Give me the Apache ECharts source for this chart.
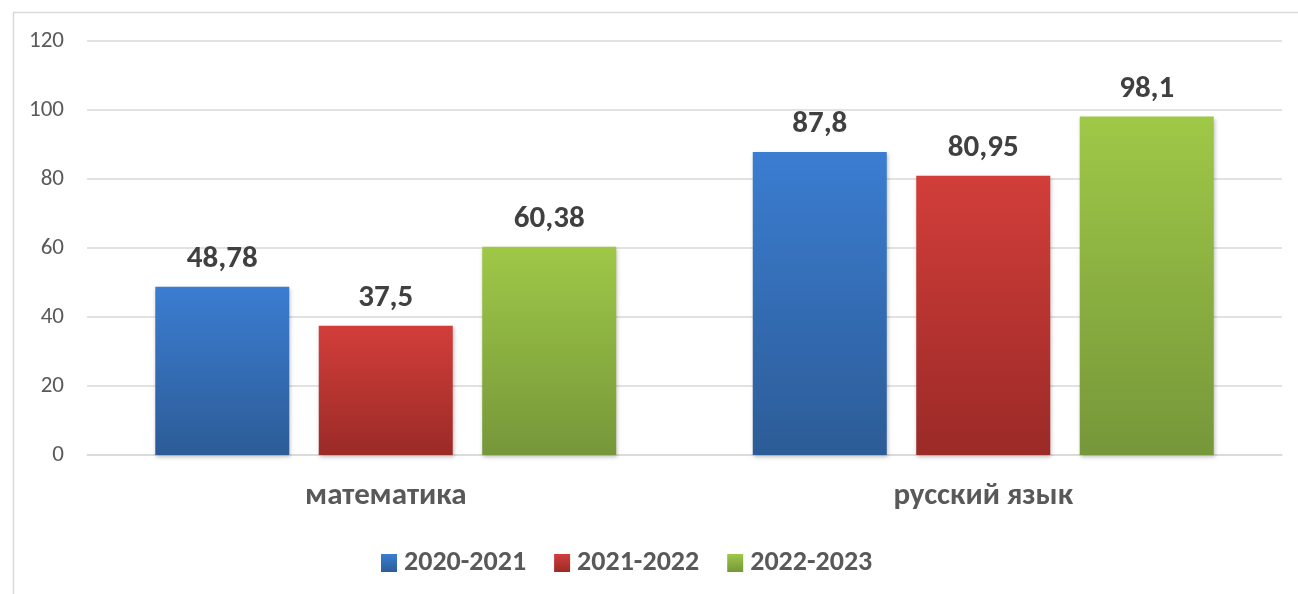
<!DOCTYPE html>
<html>
<head>
<meta charset="utf-8">
<script src="https://cdn.jsdelivr.net/npm/echarts@6/dist/echarts.min.js"></script>
<style>
  html, body { margin: 0; padding: 0; background: #fff; }
  #chart { width: 1298px; height: 594px; }
</style>
</head>
<body>
<div id="chart"></div>
<script>
// данные
const subjects = ['математика', 'русский язык'];
const years = ['2020-2021', '2021-2022', '2022-2023'];
const values2020 = [48.78, 87.8];
const values2021 = [37.5, 80.95];
const values2022 = [60.38, 98.1];
const yTicks = [0, 20, 40, 60, 80, 100, 120];

const FONT = 'Carlito, Lato, "Open Sans", sans-serif';

// градиенты столбцов (сверху вниз)
const gradients = [
    ['#3b7dd1', '#2c5c97'],
    ['#d23e3a', '#9b2a27'],
    ['#9fc847', '#76973a']
];

function grad(pair) {
    return {
        type: 'linear', x: 0, y: 0, x2: 0, y2: 1,
        colorStops: [{ offset: 0, color: pair[0] }, { offset: 1, color: pair[1] }]
    };
}

const seriesValues = [values2020, values2021, values2022];

const chart = echarts.init(document.getElementById('chart'));

const option = {
    backgroundColor: '#fff',
    animation: false,
    grid: { left: 87, right: 16, top: 41, bottom: 139, containLabel: false },
    legend: {
        data: years,
        top: 544,
        left: 376,
        icon: 'rect',
        itemWidth: 16,
        itemHeight: 18,
        itemGap: 28,
        textStyle: { color: '#595959', fontSize: 28, fontWeight: 'bold', fontFamily: FONT, padding: [0, 0, 0, 2] }
    },
    xAxis: {
        type: 'category',
        data: subjects,
        axisLine: { lineStyle: { color: '#d9d9d9', width: 1.5 } },
        axisTick: { show: false },
        axisLabel: { color: '#595959', fontSize: 31, fontWeight: 'bold', fontFamily: FONT, margin: 26 }
    },
    yAxis: {
        type: 'value',
        min: yTicks[0],
        max: yTicks[yTicks.length - 1],
        interval: 20,
        axisLine: { show: false },
        axisTick: { show: false },
        splitLine: { lineStyle: { color: '#d9d9d9', width: 1.5 } },
        axisLabel: { color: '#595959', fontSize: 23, fontFamily: FONT, margin: 23 }
    },
    series: years.map((name, i) => ({
        name: name,
        type: 'bar',
        data: seriesValues[i],
        barWidth: 134,
        barGap: '22%',
        itemStyle: {
            color: grad(gradients[i]),
            shadowBlur: 4,
            shadowColor: 'rgba(0,0,0,0.25)',
            shadowOffsetX: 1,
            shadowOffsetY: 2
        },
        label: {
            show: true,
            position: 'top',
            distance: 12,
            color: '#404040',
            fontSize: 31,
            fontWeight: 'bold',
            fontFamily: FONT,
            formatter: p => String(p.value).replace('.', ',')
        }
    })),
    graphic: [
        {
            type: 'rect',
            left: 11, top: 10,
            shape: { width: 1300, height: 600 },
            style: { fill: 'none', stroke: '#d9d9d9', lineWidth: 1.5 },
            silent: true
        }
    ]
};

chart.setOption(option);
window.addEventListener('resize', () => chart.resize());
</script>
</body>
</html>
